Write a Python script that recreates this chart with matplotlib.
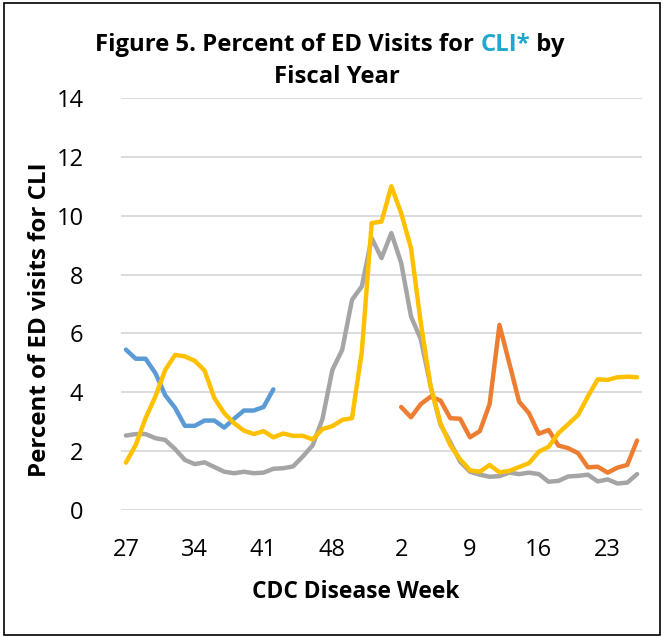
import matplotlib
matplotlib.use("Agg")
import matplotlib.pyplot as plt
from matplotlib.patches import Rectangle
import numpy as np

plt.rcParams['font.family'] = ['Open Sans', 'DejaVu Sans']

# CDC weeks of fiscal year: 27..53 then 1..26
weeks = list(range(27, 54)) + list(range(1, 27))
tick_weeks = [27, 34, 41, 48, 2, 9, 16, 23]

# series (percent of ED visits for CLI)
blue = [5.45, 5.14, 5.14, 4.65, 3.9, 3.47, 2.86, 2.86, 3.04, 3.04, 2.8, 3.1,
        3.38, 3.38, 3.5, 4.1]
gray = [2.53, 2.58, 2.58, 2.44, 2.38, 2.07, 1.7, 1.56, 1.62, 1.46, 1.3, 1.25,
        1.3, 1.25, 1.27, 1.4, 1.42, 1.48, 1.82, 2.2, 3.1, 4.76, 5.44, 7.14,
        7.6, 9.24, 8.56, 9.41, 8.4, 6.58, 5.8, 4.2, 2.9, 2.3, 1.64, 1.3, 1.2,
        1.13, 1.15, 1.27, 1.22, 1.27, 1.22, 0.96, 0.99, 1.14, 1.16, 1.2, 0.97,
        1.04, 0.9, 0.93, 1.22]
yellow = [1.61, 2.21, 3.12, 3.86, 4.76, 5.27, 5.22, 5.07, 4.74, 3.8, 3.29, 2.95,
          2.7, 2.58, 2.68, 2.47, 2.6, 2.52, 2.52, 2.4, 2.75, 2.85, 3.06, 3.12,
          5.39, 9.75, 9.8, 11.0, 10.09, 8.9, 6.35, 4.19, 2.95, 2.2, 1.72, 1.35,
          1.3, 1.53, 1.28, 1.33, 1.46, 1.59, 1.98, 2.15, 2.61, 2.92, 3.23, 3.86,
          4.44, 4.42, 4.51, 4.53, 4.51]
orange_start = 28  # week 2
orange = [3.5, 3.15, 3.6, 3.85, 3.72, 3.12, 3.1, 2.47, 2.68, 3.6, 6.29, 4.99,
          3.68, 3.29, 2.59, 2.72, 2.19, 2.1, 1.93, 1.45, 1.47, 1.27, 1.44, 1.53,
          2.36]

W, H = 663, 636
fig = plt.figure(figsize=(W / 100, H / 100), dpi=100)
ax = fig.add_axes([121 / W, 1 - 510 / H, 521 / W, 412 / H])
r = fig.canvas.get_renderer()


def fit(t, width_px):
    # shrink/grow a text so that it spans about width_px
    bb = t.get_window_extent(r)
    w = bb.height if t.get_rotation() == 90 else bb.width
    t.set_fontsize(t.get_fontsize() * width_px / w)


x = np.arange(len(weeks))
lw = 3.2
ax.plot(x[:len(blue)], blue, color="#5B9BD5", lw=lw, solid_capstyle="round")
ax.plot(x, gray, color="#A5A5A5", lw=lw, solid_capstyle="round")
ax.plot(x[orange_start:orange_start + len(orange)], orange, color="#ED7D31",
        lw=lw, solid_capstyle="round")
ax.plot(x, yellow, color="#FFC000", lw=lw, solid_capstyle="round")

ax.set_xlim(-0.5, len(weeks) - 0.5)
ax.set_ylim(0, 14)
ax.set_yticks(range(0, 15, 2))
ax.set_xticks([weeks.index(w) for w in tick_weeks])
ax.set_xticklabels([str(w) for w in tick_weeks])
ax.tick_params(axis="both", length=0, labelsize=17, colors="black")
ax.tick_params(axis="y", pad=27)
ax.tick_params(axis="x", pad=20)
ax.grid(axis="y", color="#D9D9D9", lw=1.3)
ax.set_axisbelow(True)
for s in ax.spines.values():
    s.set_visible(False)

# axis titles placed in figure pixels
xl = fig.text(356 / W, 1 - 592 / H, "CDC Disease Week", fontsize=16,
              fontweight="bold", ha="center", va="center")
fit(xl, 208)
yl = fig.text(40 / W, 1 - 320 / H, "Percent of ED visits for CLI", fontsize=16,
              fontweight="bold", ha="center", va="center", rotation=90)
fit(yl, 316)

# title with coloured "CLI*"
parts = [("Figure 5. Percent of ED Visits for ", "black"), ("CLI*", "#1FA8CC"),
         (" by", "black")]
texts = [fig.text(0, 1 - 45 / H, s, color=c, fontsize=15, fontweight="bold",
                  va="center", ha="left") for s, c in parts]
total = sum(t.get_window_extent(r).width for t in texts)
for t in texts:
    t.set_fontsize(15 * 468 / total)
widths = [t.get_window_extent(r).width for t in texts]
xpos = 330 - sum(widths) / 2
for t, w in zip(texts, widths):
    t.set_x(xpos / W)
    xpos += w
fig.text(337 / W, 1 - 77 / H, "Fiscal Year", fontsize=texts[0].get_fontsize(),
         fontweight="bold", ha="center", va="center")

fig.patches.append(Rectangle((4 / W, 1 / H), 656 / W, 632 / H,
                             transform=fig.transFigure, fill=False,
                             edgecolor="black", lw=1.2))

fig.savefig("out.png", dpi=100)
